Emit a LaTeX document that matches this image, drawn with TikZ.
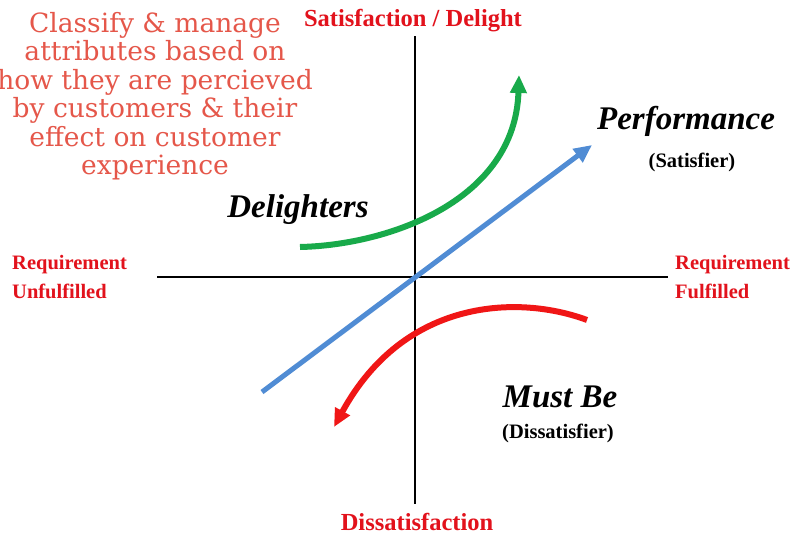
\documentclass[tikz,border=0pt]{standalone}
\usepackage{fontspec}
\setmainfont{Liberation Serif}
\newfontfamily\notefont{DejaVu Serif}
\usetikzlibrary{arrows.meta}
\definecolor{labelred}{RGB}{226,18,28}
\definecolor{notered}{RGB}{229,87,74}
\definecolor{delightgreen}{RGB}{24,170,74}
\definecolor{mustred}{RGB}{240,22,22}
\definecolor{perfblue}{RGB}{80,140,212}

\begin{document}
\begin{tikzpicture}[x=1pt, y=-1pt,
	axis/.style={line width=2.4pt, black},
	curve/.style={line width=6pt, -{Triangle[length=18pt, width=16pt]}},
	pole/.style={font=\fontsize{24.5}{26}\selectfont\bfseries, text=labelred, inner sep=0pt},
	side/.style={font=\fontsize{20.5}{28.5}\selectfont\bfseries, text=labelred, align=left, anchor=west, inner sep=0pt},
	kind/.style={font=\fontsize{33}{36}\selectfont\bfseries\itshape, inner sep=0pt},
	role/.style={font=\fontsize{20.5}{22}\selectfont\bfseries, inner sep=0pt},
	note/.style={font=\notefont\fontsize{26.5}{28.5}\selectfont, text=notered, align=center, inner sep=0pt}]

	\useasboundingbox (0,0) rectangle (806,536);
	\fill [white] (0,0) rectangle (806,536);

	\coordinate (top) at (415,36);
	\coordinate (bottom) at (415,504);
	\coordinate (left) at (157,277);
	\coordinate (right) at (668,277);
	\draw [axis] (top) -- (bottom);
	\draw [axis] (left) -- (right);

	\coordinate (p0) at (262,392);
	\coordinate (p1) at (592,145);
	\draw [curve, perfblue, line width=5pt] (p0) -- (p1);

	\coordinate (d0) at (300,247);
	\coordinate (d1) at (519,75);
	\draw [curve, delightgreen] (d0) .. controls (390,245) and (515,200) .. (d1);

	\coordinate (m0) at (587,320);
	\coordinate (m1) at (334,427);
	\draw [curve, mustred] (m0) .. controls (520,295) and (405,297) .. (m1);

	\node [pole] (sat) at (413,21) {Satisfaction / Delight};
	\node [pole] (dis) at (417,522) {Dissatisfaction};
	\node [side] (unf) at (12,277) {Requirement\\Unfulfilled};
	\node [side] (ful) at (675,277) {Requirement\\Fulfilled};

	\node [kind] (perf) at (686,121) {Performance};
	\node [role] (satr) at (692,162) {(Satisfier)};
	\node [kind] (del) at (298,210) {Delighters};
	\node [kind] (must) at (560,397) {Must Be};
	\node [role] (disr) at (558,433) {(Dissatisfier)};

	\node [note] (goal) at (155,96) {Classify \& manage\\attributes based on\\how they are percieved\\by customers \& their\\effect on customer\\experience};
\end{tikzpicture}
\end{document}
